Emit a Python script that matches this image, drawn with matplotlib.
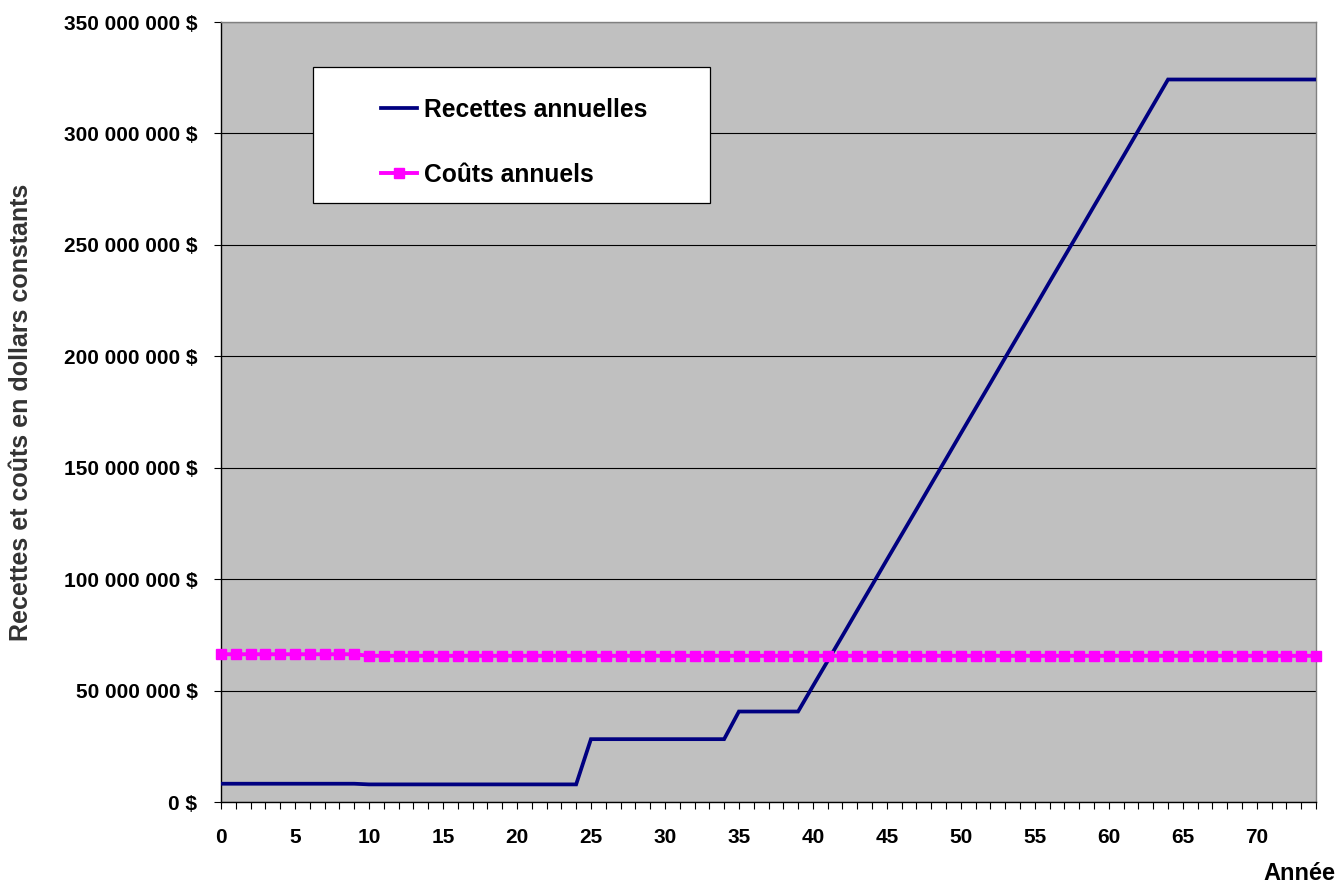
import numpy as np
import matplotlib
matplotlib.use("Agg")
import matplotlib.pyplot as plt
from matplotlib.patches import Rectangle
from matplotlib.ticker import FuncFormatter, MultipleLocator

plt.rcParams['font.family'] = ['Liberation Sans', 'DejaVu Sans']
plt.rcParams['font.weight'] = 'bold'

# annual values, in millions of constant dollars
years = list(range(0, 75))
recettes = [
    8.2, 8.2, 8.2, 8.2, 8.2, 8.2, 8.2, 8.2, 8.2, 8.2,
    7.9, 7.9, 7.9, 7.9, 7.9, 7.9, 7.9, 7.9, 7.9, 7.9,
    7.9, 7.9, 7.9, 7.9, 7.9,
    28.2, 28.2, 28.2, 28.2, 28.2, 28.2, 28.2, 28.2, 28.2, 28.2,
    40.6, 40.6, 40.6, 40.6, 40.6,
    52.0, 63.3, 74.6, 86.0, 97.3, 108.7, 120.0, 131.3, 142.7, 154.0,
    165.4, 176.7, 188.0, 199.4, 210.7, 222.0, 233.4, 244.7, 256.0, 267.4,
    278.7, 290.0, 301.4, 312.8,
    324.2, 324.2, 324.2, 324.2, 324.2, 324.2, 324.2, 324.2, 324.2, 324.2,
    324.2,
]
couts = [
    66.3, 66.3, 66.3, 66.3, 66.3, 66.3, 66.3, 66.3, 66.3, 66.3,
    65.6, 65.6, 65.6, 65.6, 65.6, 65.6, 65.6, 65.6, 65.6, 65.6,
    65.6, 65.6, 65.6, 65.6, 65.6, 65.6, 65.6, 65.6, 65.6, 65.6,
    65.6, 65.6, 65.6, 65.6, 65.6, 65.6, 65.6, 65.6, 65.6, 65.6,
    65.6, 65.6, 65.6, 65.6, 65.6, 65.6, 65.6, 65.6, 65.6, 65.6,
    65.6, 65.6, 65.6, 65.6, 65.6, 65.6, 65.6, 65.6, 65.6, 65.6,
    65.6, 65.6, 65.6, 65.6, 65.6, 65.6, 65.6, 65.6, 65.6, 65.6,
    65.6, 65.6, 65.6, 65.6, 65.6,
]
labels = ['Recettes annuelles', 'Coûts annuels']

rec = np.array(recettes) * 1e6
cou = np.array(couts) * 1e6

fig = plt.figure(figsize=(13.41, 8.84), dpi=100)
ax = fig.add_axes([221/1341, 1 - 802/884, 1095/1341, 780/884])
ax.set_facecolor('#C0C0C0')

l1, = ax.plot(years, rec, color='#000080', lw=2.7, solid_joinstyle='miter', zorder=3)
l2, = ax.plot(years, cou, color='#FF00FF', lw=2.8, marker='s', ms=7.3,
              mec='#FF00FF', mfc='#FF00FF', zorder=4, clip_on=False)

ax.set_xlim(0, 74)
ax.set_ylim(0, 350e6)

ax.yaxis.set_major_locator(MultipleLocator(50e6))
ax.yaxis.set_major_formatter(FuncFormatter(lambda v, p: f"{v:,.0f}".replace(',', ' ') + ' $'))
ax.grid(axis='y', color='black', lw=0.8, zorder=1)
ax.set_axisbelow(True)

ax.xaxis.set_major_locator(MultipleLocator(5))
ax.xaxis.set_minor_locator(MultipleLocator(1))
ax.tick_params(axis='x', which='both', direction='out', length=5, width=0.8,
               labelsize=15, pad=14)
ax.tick_params(axis='y', direction='out', length=5, width=0.8, labelsize=15, pad=12)
for t in ax.get_xticklabels() + ax.get_yticklabels():
    t.set_fontweight('bold')

ax.spines['left'].set_color('black')
ax.spines['bottom'].set_color('black')
ax.spines['top'].set_color('#808080')
ax.spines['right'].set_color('#808080')
for s in ax.spines.values():
    s.set_linewidth(1.0)

# legend box
ax.add_patch(Rectangle((92/1095, (802-203)/780), 397/1095, 136/780,
                       transform=ax.transAxes, facecolor='white',
                       edgecolor='black', lw=0.9, zorder=5))
leg = ax.legend([l1, l2], labels, loc='upper left',
                bbox_to_anchor=(160/1095, (802-98)/780), frameon=False,
                borderpad=0, borderaxespad=0, handlelength=1.45,
                handletextpad=0.3, labelspacing=1.65,
                prop={'size': 17.7, 'weight': 'bold'})
leg.set_zorder(6)
for h in leg.legend_handles:
    h.set_markersize(7)

fig.text(21/1341, 1 - 412/884, 'Recettes et coûts en dollars constants',
         rotation=90, ha='center', va='center', fontsize=18,
         fontweight='bold', color='#333333')
fig.text(1335/1341, 1 - 880/884, 'Année', ha='right', va='baseline',
         fontsize=17, fontweight='bold')

fig.savefig('out.png', dpi=100)
